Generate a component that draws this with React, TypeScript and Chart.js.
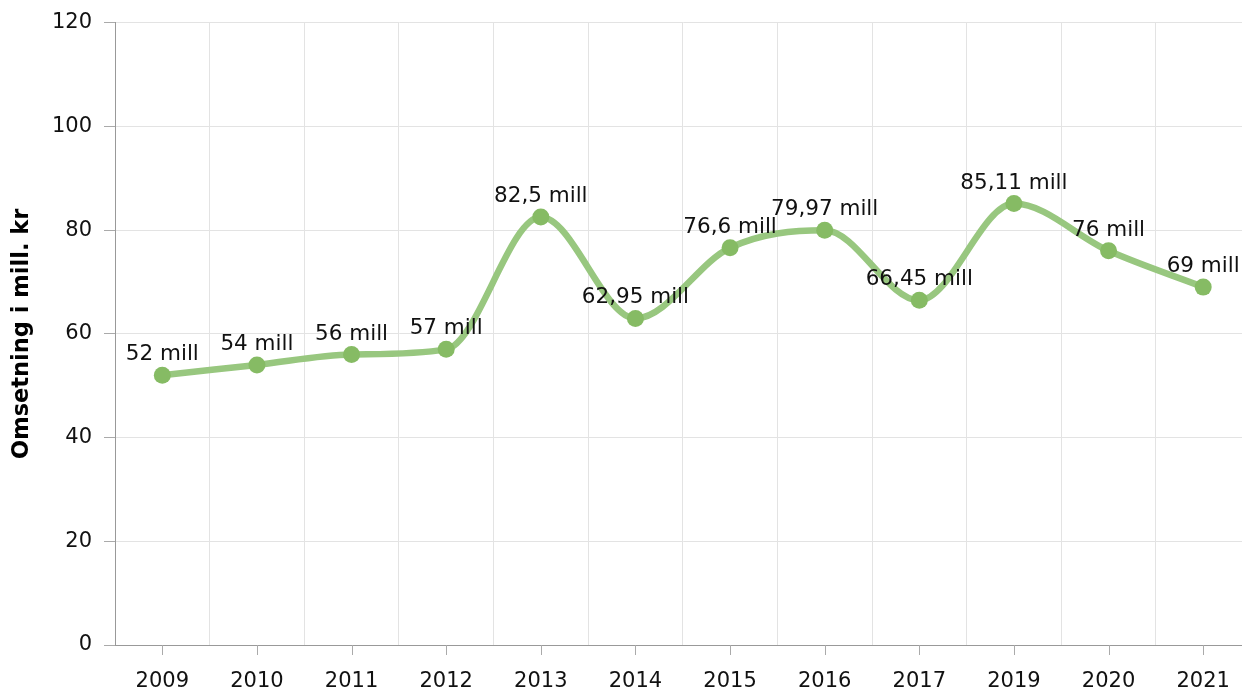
import React, { useEffect, useRef } from "react";
import { Chart, registerables } from "chart.js";

Chart.register(...registerables);

const years = ["2009", "2010", "2011", "2012", "2013", "2014", "2015", "2016", "2017", "2019", "2020", "2021"];
const revenue = [52, 54, 56, 57, 82.5, 62.95, 76.6, 79.97, 66.45, 85.11, 76, 69];
const valueLabels = ["52 mill", "54 mill", "56 mill", "57 mill", "82,5 mill", "62,95 mill", "76,6 mill", "79,97 mill", "66,45 mill", "85,11 mill", "76 mill", "69 mill"];
const yTitle = "Omsetning i mill. kr";

const FONT = "'DejaVu Sans', Verdana, sans-serif";

const labelPlugin = {
  id: "valueLabels",
  afterDatasetsDraw(chart: any) {
    const ctx = chart.ctx;
    const meta = chart.getDatasetMeta(0);
    ctx.save();
    ctx.font = `21.5px ${FONT}`;
    ctx.fillStyle = "#111";
    ctx.textAlign = "center";
    ctx.textBaseline = "alphabetic";
    meta.data.forEach((pt: any, i: number) => {
      ctx.fillText(valueLabels[i], pt.x, pt.y - 15);
    });
    ctx.restore();
  },
};

const xTickPlugin = {
  id: "xTickMarks",
  afterDraw(chart: any) {
    const ctx = chart.ctx;
    const xs = chart.scales.x;
    const bottom = chart.chartArea.bottom;
    ctx.save();
    ctx.strokeStyle = "#aaaaaa";
    ctx.lineWidth = 1;
    years.forEach((_, i) => {
      const x = Math.round(xs.getPixelForValue(i)) + 0.5;
      ctx.beginPath();
      ctx.moveTo(x, bottom);
      ctx.lineTo(x, bottom + 10);
      ctx.stroke();
    });
    ctx.restore();
  },
};

export default function App() {
  const ref = useRef<HTMLCanvasElement>(null);
  useEffect(() => {
    document.body.style.margin = "0";
    const chart = new Chart(ref.current!, {
      type: "line",
      data: {
        labels: years,
        datasets: [
          {
            data: revenue,
            borderColor: "#98c77f",
            borderWidth: 6.5,
            pointRadius: 8.5,
            pointHoverRadius: 8.5,
            pointBackgroundColor: "#86bb64",
            pointBorderColor: "#86bb64",
            pointBorderWidth: 0,
            cubicInterpolationMode: "monotone",
            fill: false,
          },
        ],
      },
      options: {
        animation: false,
        responsive: false,
        layout: { padding: { top: 16, right: 2, left: 0, bottom: 0 } },
        plugins: { legend: { display: false }, tooltip: { enabled: false } },
        scales: {
          x: {
            offset: true,
            grid: { offset: true, color: "#e3e3e3", drawTicks: false },
            border: { color: "#999999" },
            ticks: { color: "#111", font: { family: FONT, size: 21 }, padding: 24, maxRotation: 0 },
            afterFit: (s: any) => { s.height = 48; },
          },
          y: {
            min: 0,
            max: 120,
            ticks: { stepSize: 20, color: "#111", font: { family: FONT, size: 21 }, padding: 12 },
            grid: { color: "#e3e3e3", tickLength: 11, tickColor: "#aaaaaa" },
            border: { color: "#999999" },
            title: {
              display: true,
              text: yTitle,
              color: "#000",
              font: { family: FONT, size: 22.5, weight: "bold" },
              padding: { top: 9, bottom: 0 },
            },
            afterFit: (s: any) => { s.width = 115; },
          },
        },
      },
      plugins: [labelPlugin, xTickPlugin],
    });
    return () => chart.destroy();
  }, []);
  return (
    <div style={{ width: 1242, height: 693, overflow: "hidden", position: "relative" }}>
      <canvas
        ref={ref}
        width={1259}
        height={695}
        style={{ width: 1259, height: 695, display: "block", position: "absolute", left: 0, top: -2 }}
      />
    </div>
  );
}
